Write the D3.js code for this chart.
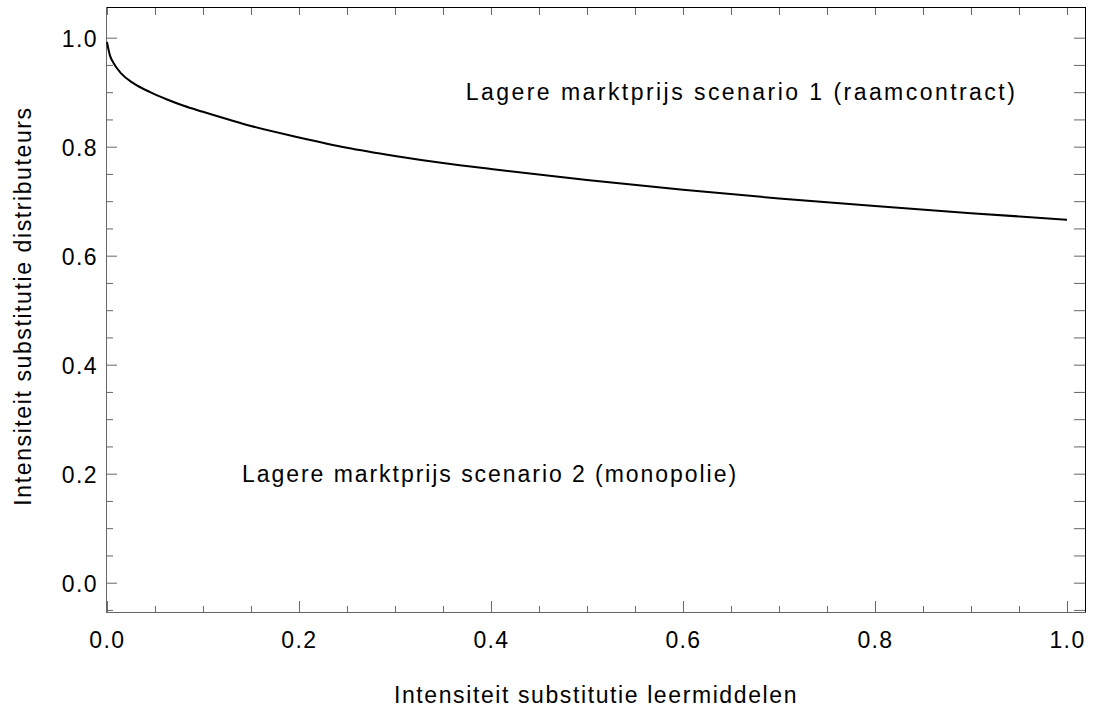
<!DOCTYPE html>
<html>
<head>
<meta charset="utf-8">
<script src="https://cdn.jsdelivr.net/npm/d3@7/dist/d3.min.js"></script>
<style>
body { margin: 0; background: #fff; }
text { font-family: "Liberation Sans", Arial, sans-serif; fill: #000; letter-spacing: 1.4px; }
</style>
</head>
<body>
<svg id="chart" width="1094" height="708"></svg>
<script>
// curve
var substLeermiddelen = [0, 0.003, 0.007, 0.015, 0.027, 0.045, 0.062, 0.08, 0.1, 0.15, 0.2, 0.25, 0.3, 0.35, 0.4, 0.5, 0.6, 0.7, 0.8, 0.9, 1.0];
var substDistributeurs = [0.992, 0.968, 0.953, 0.934, 0.917, 0.900, 0.887, 0.875, 0.864, 0.838, 0.817, 0.798, 0.783, 0.770, 0.759, 0.739, 0.721, 0.705, 0.691, 0.678, 0.666];

var xTicks = [0, 0.2, 0.4, 0.6, 0.8, 1.0];
var yTicks = [0, 0.2, 0.4, 0.6, 0.8, 1.0];
var labelTexts = ["Lagere marktprijs scenario 1 (raamcontract)", "Lagere marktprijs scenario 2 (monopolie)"];
var labelX = [0.661, 0.399];
var labelY = [0.9, 0.2];
var labelSpacing = ['2.45px', '1.95px'];
var xTitle = "Intensiteit substitutie leermiddelen";
var yTitle = "Intensiteit substitutie distributeurs";

var plotLeft = 106, plotRight = 1086, plotTop = 7, plotBottom = 612;

var svg = d3.select('#chart');

var x = d3.scaleLinear().domain([-0.001, 1.0198]).range([plotLeft, plotRight]);
var y = d3.scaleLinear().domain([-0.0538, 1.0563]).range([plotBottom, plotTop]);

var fmt = d3.format('.1f');
var minor = d3.range(-1, 21).map(function (i) { return i * 0.05; })
  .filter(function (v) { return Math.abs(v * 5 - Math.round(v * 5)) > 1e-6; });
var xMinor = minor.filter(function (v) { return v >= 0 && v <= 1.01; });
var yMinor = minor.filter(function (v) { return v >= -0.053 && v <= 1.055; });

function styleAxis(g) {
  g.select('.domain').remove();
  g.selectAll('line').attr('stroke', '#666').attr('stroke-width', 1);
  g.selectAll('text').style('font-size', '23px').attr('fill', '#000');
}

// bottom
svg.append('g').attr('transform', 'translate(0,' + plotBottom + ')')
  .call(d3.axisBottom(x).tickValues(xTicks).tickSize(-11).tickPadding(20).tickFormat(fmt))
  .call(styleAxis)
  .selectAll('text').attr('dy', '0.71em');
svg.append('g').attr('transform', 'translate(0,' + plotBottom + ')')
  .call(d3.axisBottom(x).tickValues(xMinor).tickSize(-6).tickFormat(''))
  .call(styleAxis);

// left
svg.append('g').attr('transform', 'translate(' + plotLeft + ',0)')
  .call(d3.axisLeft(y).tickValues(yTicks).tickSize(-11).tickPadding(8).tickFormat(fmt))
  .call(styleAxis)
  .selectAll('text').attr('dy', '0.38em');
svg.append('g').attr('transform', 'translate(' + plotLeft + ',0)')
  .call(d3.axisLeft(y).tickValues(yMinor).tickSize(-7).tickFormat(''))
  .call(styleAxis);

// top and right, unlabeled
svg.append('g').attr('transform', 'translate(0,' + plotTop + ')')
  .call(d3.axisTop(x).tickValues(xTicks.concat(xMinor)).tickSize(-8).tickFormat(''))
  .call(styleAxis);
svg.append('g').attr('transform', 'translate(' + plotRight + ',0)')
  .call(d3.axisRight(y).tickValues(yTicks.concat(yMinor)).tickSize(-12).tickFormat(''))
  .call(styleAxis);

// frame
svg.append('line').attr('x1', plotLeft).attr('x2', plotRight).attr('y1', plotTop + 0.5).attr('y2', plotTop + 0.5).attr('stroke', '#000');
svg.append('line').attr('x1', plotRight - 0.5).attr('x2', plotRight - 0.5).attr('y1', plotTop).attr('y2', plotBottom).attr('stroke', '#000');
svg.append('line').attr('x1', plotLeft + 0.5).attr('x2', plotLeft + 0.5).attr('y1', plotTop).attr('y2', plotBottom).attr('stroke', '#666');
svg.append('line').attr('x1', plotLeft).attr('x2', plotRight).attr('y1', plotBottom + 0.5).attr('y2', plotBottom + 0.5).attr('stroke', '#666');

// curve
var pts = substLeermiddelen.map(function (v, i) { return [v, substDistributeurs[i]]; });
var line = d3.line()
  .x(function (d) { return x(d[0]); })
  .y(function (d) { return y(d[1]); })
  .curve(d3.curveMonotoneX);
svg.append('path').datum(pts)
  .attr('d', line)
  .attr('fill', 'none')
  .attr('stroke', '#000')
  .attr('stroke-width', 2);

// region labels
svg.selectAll('.region').data(labelTexts).enter().append('text')
  .attr('class', 'region')
  .attr('x', function (d, i) { return x(labelX[i]); })
  .attr('y', function (d, i) { return y(labelY[i]); })
  .attr('dy', '0.36em')
  .attr('text-anchor', 'middle')
  .style('font-size', '23px')
  .style('letter-spacing', function (d, i) { return labelSpacing[i]; })
  .text(function (d) { return d; });

// axis titles
svg.append('text')
  .attr('x', (plotLeft + plotRight) / 2)
  .attr('y', 703)
  .attr('text-anchor', 'middle')
  .style('font-size', '23px')
  .style('letter-spacing', '1.6px')
  .text(xTitle);
svg.append('text')
  .attr('transform', 'translate(31,306) rotate(-90)')
  .attr('text-anchor', 'middle')
  .style('font-size', '23px')
  .style('letter-spacing', '1.6px')
  .text(yTitle);
</script>
</body>
</html>
